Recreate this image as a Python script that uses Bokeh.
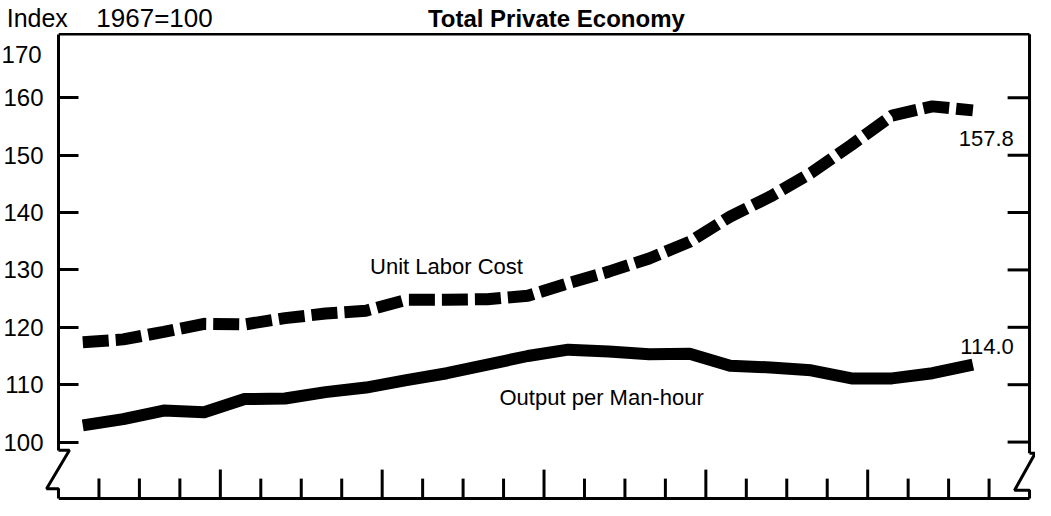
from bokeh.plotting import figure
from bokeh.models import FixedTicker, LinearAxis, Range1d
from bokeh.core.properties import value
from bokeh.embed import file_html
from bokeh.resources import INLINE

# ---- data (quarterly index values, 1967=100) ----
quarters = list(range(1, 24))  # quarter number within the 6-year span shown
output_per_manhour = [102.9, 104.0, 105.5, 105.2, 107.5, 107.6, 108.7, 109.5,
                      110.8, 112.0, 113.5, 115.0, 116.1, 115.8, 115.3, 115.4,
                      113.3, 113.0, 112.5, 111.1, 111.1, 112.0, 113.5]
unit_labor_cost = [117.4, 117.9, 119.2, 120.6, 120.5, 121.6, 122.4, 122.9,
                   124.8, 124.8, 124.9, 125.5, 127.7, 129.7, 132.0, 134.9,
                   139.3, 142.8, 146.9, 151.8, 156.9, 158.5, 157.8]
y_ticks = [100, 110, 120, 130, 140, 150, 160, 170]
year_ticks = [4, 8, 12, 16, 20]
quarter_ticks = list(range(1, 24))

SANS = "'Liberation Sans', Arial, sans-serif"

# geometry
W, H = 1035, 500
BORDER_LEFT = 54
PX_PER_Q = 40.625          # horizontal pixels per quarter
X0, X1 = 0, 24             # span of the 6 years (24 quarters)
XR = (W - BORDER_LEFT) / PX_PER_Q
Y_LO, Y_HI = 89.82, 176.95  # visible value range of the canvas
PX_PER_V = H / (Y_HI - Y_LO)
Y0, Y1 = 90.15, 171.08      # bottom axis / top frame line values
LEFT_BREAK, RIGHT_BREAK = 98.57, 98.06

xq = [q - 0.4 for q in quarters]  # plot each quarter near its mid-point

p = figure(width=W, height=H, output_backend="svg", toolbar_location=None,
           x_range=Range1d(0, XR), y_range=Range1d(Y_LO, Y_HI),
           x_axis_location=None, y_axis_location=None,
           min_border_left=BORDER_LEFT, min_border_right=0, min_border_top=0,
           min_border_bottom=0)
p.outline_line_color = None
p.grid.visible = False
p.background_fill_color = "white"
p.border_fill_color = "white"

# left axis: labels and inward tick marks 100..160
left = LinearAxis(ticker=FixedTicker(ticks=y_ticks[:-1]),
                  bounds=(LEFT_BREAK, Y1),
                  axis_line_width=3, axis_line_color="black",
                  major_tick_in=20, major_tick_out=0, major_tick_line_width=3,
                  major_tick_line_color="black",
                  minor_tick_in=0, minor_tick_out=0,
                  major_label_standoff=15,
                  major_label_text_font=SANS, major_label_text_font_size="24px",
                  major_label_text_color="black")
p.add_layout(left, "left")

K = dict(line_color="black", line_width=3)
# top frame line
p.line([X0, X1], [Y1, Y1], line_color="black", line_width=2.5)
# right axis line with inward ticks
p.line([X1, X1], [RIGHT_BREAK, Y1], **K)
rt = y_ticks[:-1]
p.segment(x0=[X1] * len(rt), y0=rt, x1=[X1 - 22 / PX_PER_Q] * len(rt), y1=rt, **K)
# bottom axis line with quarter ticks (longer at year boundaries)
p.line([X0, X1], [Y0, Y0], **K)
tick_len = [(29 if q in year_ticks else 20) / PX_PER_V for q in quarter_ticks]
p.segment(x0=quarter_ticks, y0=[Y0] * len(quarter_ticks), x1=quarter_ticks,
          y1=[Y0 + t for t in tick_len], **K)

# axis break marks
p.line([X0, X0 + 0.27, X0 - 0.295, X0, X0], [LEFT_BREAK, LEFT_BREAK, 91.87, 91.87, Y0],
       level="overlay", **K)
p.line([X1, X1 + 0.14, X1 - 0.37, X1, X1], [RIGHT_BREAK, RIGHT_BREAK, 91.6, 91.6, Y0],
       level="overlay", **K)

# series
p.line(xq, unit_labor_cost, line_width=12, line_color="black", line_dash="26 7")
p.line(xq, output_per_manhour, line_width=12, line_color="black", line_join="round")

def lab(x, y, text, size=22, style="normal", align="left"):
    # y is the wanted baseline; compensate the renderer's baseline offset
    dy = 0.4 * size / PX_PER_V
    p.text(x=[x], y=[y + dy], text=[text], text_font=value(SANS),
           text_font_size=f"{size}px", text_font_style=style, text_align=align,
           text_baseline="alphabetic", text_color="black", level="overlay")

# top tick label sits just under the frame line
lab(-0.418, 165.93, str(y_ticks[-1]), size=24, align="right")
lab(-1.28, 172.1, "Index", size=25)
lab(0.935, 172.1, "1967=100", size=26)
lab(9.13, 172.1, "Total Private Economy", size=24, style="bold")
lab(7.70, 129.15, "Unit Labor Cost")
lab(10.90, 106.3, "Output per Man-hour")
lab(23.61, 151.3, "157.8", align="right")
lab(23.61, 115.1, "114.0", align="right")

open("out.html", "w").write(file_html(p, INLINE))
